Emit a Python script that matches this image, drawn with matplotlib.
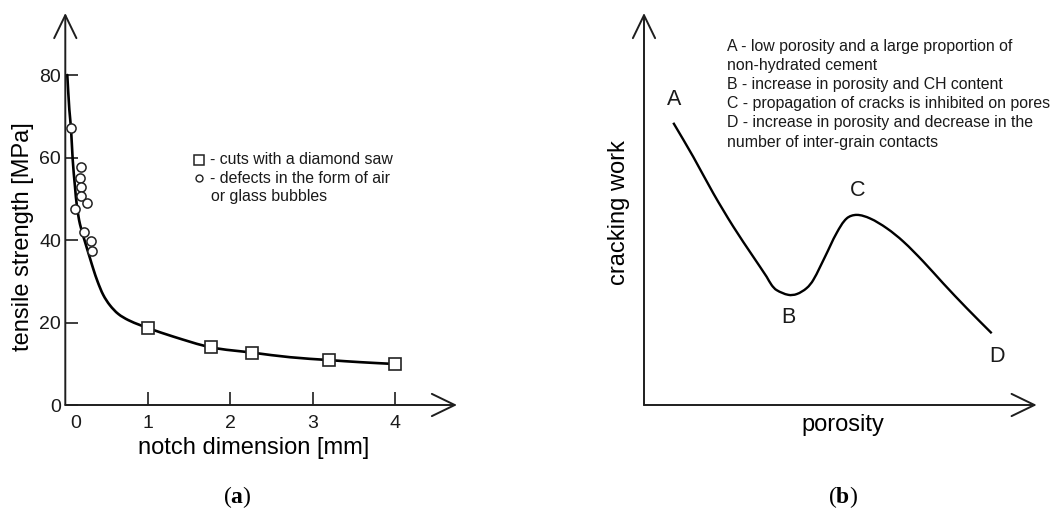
import matplotlib
matplotlib.use('Agg')
import numpy as np
import matplotlib.pyplot as plt
from matplotlib.transforms import ScaledTranslation
from matplotlib.path import Path
from matplotlib.patches import PathPatch

plt.rcParams['font.family'] = ['Liberation Sans', 'DejaVu Sans']
plt.rcParams['mathtext.fontset'] = 'custom'
plt.rcParams['mathtext.rm'] = 'Liberation Serif'
plt.rcParams['mathtext.bf'] = 'Liberation Serif:bold'

# ---------------- Panel (a) data ----------------
curve_a_x = [0.024, 0.049, 0.069, 0.090, 0.118, 0.142, 0.178, 0.239, 0.30, 0.34, 0.393,
             0.461, 0.542, 0.643, 0.765, 0.907, 1.0, 1.311, 1.768, 2.274, 2.727, 3.204,
             3.576, 4.0]
curve_a_y = [80.1, 71.7, 67.2, 59.5, 52.9, 48.1, 43.9, 39.6, 35.6, 33.0, 29.9,
             26.7, 24.2, 22.1, 20.6, 19.4, 18.7, 16.6, 14.0, 12.7, 11.6, 10.9,
             10.4, 9.95]
saw_x = [1.0, 1.77, 2.27, 3.2, 4.0]
saw_y = [18.7, 14.0, 12.7, 10.9, 9.95]
bubble_x = [0.069, 0.187, 0.178, 0.187, 0.187, 0.260, 0.118, 0.227, 0.308, 0.328]
bubble_y = [67.3, 57.8, 55.0, 53.0, 50.8, 49.0, 47.5, 41.9, 39.9, 37.5]
xticks_a = [0, 1, 2, 3, 4]
yticks_a = [0, 20, 40, 60, 80]
legend_a = ['- cuts with a diamond saw', '- defects in the form of air', 'or glass bubbles']

# ---------------- Panel (b) data ----------------
curve_b_x = [0.746, 1.255, 1.765, 2.274, 2.783, 3.124, 3.25, 3.379, 3.675, 3.89, 4.14,
             4.311, 4.609, 4.907, 5.162, 5.416, 5.755, 6.180, 6.603, 7.112, 7.622, 8.218, 8.854]
curve_b_y = [7.20, 6.33, 5.40, 4.55, 3.78, 3.27, 3.06, 2.93, 2.81, 2.83, 2.98,
             3.19, 3.78, 4.39, 4.76, 4.85, 4.76, 4.51, 4.17, 3.66, 3.10, 2.47, 1.83]
point_labels = ['A', 'B', 'C', 'D']
notes_b = ['A - low porosity and a large proportion of',
           'non-hydrated cement',
           'B - increase in porosity and CH content',
           'C - propagation of cracks is inhibited on pores',
           'D - increase in porosity and decrease in the',
           'number of inter-grain contacts']

W, H = 1052, 513
fig = plt.figure(figsize=(W / 100, H / 100), dpi=100)
axc = '#1e1e1e'


def frac_x(ax_left, ax_w, px):
    return (px - ax_left) / ax_w


def arrow_axes(ax):
    for s in ax.spines.values():
        s.set_visible(False)
    kw = dict(arrowstyle='->,head_length=1.65,head_width=0.8', lw=1.4, color=axc,
              shrinkA=0, shrinkB=0, mutation_scale=10)
    ax.annotate('', xy=(0, 1), xytext=(0, 0), xycoords='axes fraction',
                textcoords='axes fraction', arrowprops=kw, annotation_clip=False)
    ax.annotate('', xy=(1, 0), xytext=(0, 0), xycoords='axes fraction',
                textcoords='axes fraction', arrowprops=kw, annotation_clip=False)


def smooth_line(ax, xs, ys, **kw):
    """Draw a smooth curve passing through the given points (cubic Bezier segments)."""
    pts = ax.transData.transform(np.column_stack([xs, ys]))
    n = len(pts)
    tang = []
    for i in range(n):
        d = pts[min(i + 1, n - 1)] - pts[max(i - 1, 0)]
        tang.append(d / np.hypot(*d))
    verts = [pts[0]]
    codes = [Path.MOVETO]
    for i in range(n - 1):
        L = np.hypot(*(pts[i + 1] - pts[i]))
        verts += [pts[i] + tang[i] * L / 3, pts[i + 1] - tang[i + 1] * L / 3, pts[i + 1]]
        codes += [Path.CURVE4] * 3
    verts = ax.transData.inverted().transform(np.array(verts))
    ax.add_patch(PathPatch(Path(verts, codes), fill=False, **kw))


# axes boxes in pixels (left, right, top, bottom)
aL, aR, aT, aB = 65.3, 457.0, 13.0, 405.0
bL, bR = 644.0, 1036.7
aw, ah = aR - aL, aB - aT
bw = bR - bL

ax1 = fig.add_axes([aL / W, 1 - aB / H, aw / W, ah / H])
ax2 = fig.add_axes([bL / W, 1 - aB / H, bw / W, ah / H])
for ax in (ax1, ax2):
    ax.set_facecolor('none')
    arrow_axes(ax)

# ---------------- Panel (a) ----------------
ax1.set_xlim(0, aw / 82.4)
ax1.set_ylim(0, ah / 4.12)
smooth_line(ax1, curve_a_x, curve_a_y, edgecolor='black', lw=1.9, zorder=2,
            capstyle='round')
ax1.plot(saw_x, saw_y, ls='none', marker='s', ms=8.6, mfc='white', mec='#222222',
         mew=1.2, zorder=3)
ax1.plot(bubble_x, bubble_y, ls='none', marker='o', ms=6.6, mfc='white', mec='#222222',
         mew=1.1, zorder=3)
ax1.set_xticks(xticks_a)
ax1.set_yticks(yticks_a)
ax1.set_xticklabels([str(v) for v in xticks_a])
ax1.set_yticklabels([str(v) for v in yticks_a])
ax1.tick_params(axis='both', direction='in', length=9.5, width=1.2, color=axc,
                labelsize=14, labelcolor='#1a1a1a')
ax1.tick_params(axis='x', pad=7.5)
ax1.tick_params(axis='y', pad=3)
t0 = ax1.xaxis.get_major_ticks()[0]
t0.label1.set_transform(t0.label1.get_transform() +
                        ScaledTranslation(10 / 100, 0, fig.dpi_scale_trans))
t0.tick1line.set_visible(False)

ax1.set_xlabel('notch dimension [mm]', fontsize=17, va='center')
ax1.xaxis.set_label_coords(0.482, -(448 - aB) / ah)
ax1.set_ylabel('tensile strength [MPa]', fontsize=17, va='center')
ax1.yaxis.set_label_coords(frac_x(aL, aw, 23.3), (aB - 236.7) / ah)

# legend (drawn by hand to match the layout)
ax1.plot([frac_x(aL, aw, 199.3)], [(aB - 160) / ah], transform=ax1.transAxes,
         marker='s', ms=7.2, mfc='white', mec='#222222', mew=1.1, ls='none', clip_on=False)
ax1.plot([frac_x(aL, aw, 199.3)], [(aB - 178.3) / ah], transform=ax1.transAxes,
         marker='o', ms=5.0, mfc='white', mec='#222222', mew=1.0, ls='none', clip_on=False)
leg_x = [210, 210, 211.5]
leg_base = [164, 182.7, 201]
for txt, lx, lb in zip(legend_a, leg_x, leg_base):
    ax1.text(frac_x(aL, aw, lx), (aB - lb) / ah, txt, transform=ax1.transAxes,
             fontsize=11.4, ha='left', va='baseline', color='#1a1a1a')

# ---------------- Panel (b) ----------------
ax2.set_xlim(0, 10)
ax2.set_ylim(0, 10)
ax2.set_xticks([])
ax2.set_yticks([])
smooth_line(ax2, curve_b_x, curve_b_y, edgecolor='black', lw=1.7, zorder=2,
            capstyle='butt')

i_min = curve_b_y.index(min(curve_b_y[:12]))
i_max = curve_b_y.index(max(curve_b_y[10:]))
idx = [0, i_min, i_max, len(curve_b_x) - 1]
offsets = [(0.7, 17), (0.3, -16.5), (0.4, 17.5), (3.6, -16.5)]
for lab, i, off in zip(point_labels, idx, offsets):
    ax2.annotate(lab, xy=(curve_b_x[i], curve_b_y[i]), xytext=off,
                 textcoords='offset points', fontsize=15.5, ha='center', va='center',
                 color='#1a1a1a')

ax2.set_xlabel('porosity', fontsize=17, va='center')
ax2.xaxis.set_label_coords(frac_x(bL, bw, 842.7), -(424.5 - aB) / ah)
ax2.set_ylabel('cracking work', fontsize=17, va='center')
ax2.yaxis.set_label_coords(frac_x(bL, bw, 618.7), (aB - 212.5) / ah)

for k, line in enumerate(notes_b):
    base = 50.7 + 19.2 * k
    ax2.text(frac_x(bL, bw, 727.3), (aB - base) / ah, line, transform=ax2.transAxes,
             fontsize=11.4, ha='left', va='baseline', color='#1a1a1a')

# ---------------- captions ----------------
fig.text(237.7 / W, 1 - 503 / H, r'($\mathbf{a}$)', family='Liberation Serif',
         fontsize=17, ha='center', va='baseline')
fig.text(843 / W, 1 - 503 / H, r'($\mathbf{b}$)', family='Liberation Serif',
         fontsize=17, ha='center', va='baseline')

fig.savefig('out.png', dpi=100)
